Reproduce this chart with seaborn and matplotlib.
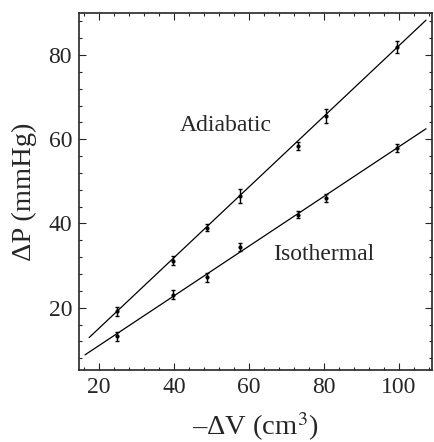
import matplotlib
matplotlib.use("Agg")
import matplotlib.pyplot as plt
from matplotlib.ticker import MultipleLocator
import seaborn as sns
import numpy as np

# Data
volume = [24.7, 39.8, 48.7, 57.6, 73.1, 80.5, 99.4]
adiabatic_p = [19.1, 31.2, 39.0, 46.5, 58.4, 65.5, 82.0]
adiabatic_err = [1.1, 1.0, 0.9, 1.7, 0.9, 1.7, 1.4]
isothermal_p = [13.2, 23.1, 27.2, 34.4, 42.1, 46.0, 57.9]
isothermal_err = [1.1, 1.1, 1.1, 1.0, 0.9, 1.0, 0.9]

adiabatic_fit_x = [17.4, 107.2]
adiabatic_fit_y = [12.9, 88.3]
isothermal_fit_x = [16.3, 107.2]
isothermal_fit_y = [8.8, 62.5]

x_ticks = [20, 40, 60, 80, 100]
y_ticks = [20, 40, 60, 80]

sns.set_style("ticks")
plt.rcParams["font.family"] = ["Liberation Serif", "DejaVu Serif"]
plt.rcParams["mathtext.fontset"] = "stix"

fig = plt.figure(figsize=(4.35, 4.42), dpi=100)
ax = fig.add_axes([79 / 435, 1 - 370 / 442, (432 - 79) / 435, (370 - 13) / 442])

sns.lineplot(x=adiabatic_fit_x, y=adiabatic_fit_y, ax=ax, color="black", lw=0.9)
sns.lineplot(x=isothermal_fit_x, y=isothermal_fit_y, ax=ax, color="black", lw=0.9)

for p, e in [(adiabatic_p, adiabatic_err), (isothermal_p, isothermal_err)]:
    ax.errorbar(volume, p, yerr=e, fmt="o", ms=2, color="black",
                ecolor="black", elinewidth=1.0, capsize=1.5, capthick=1.0)

ax.text(53.9, 63.3, "Adiabatic", fontsize=17, ha="center", va="center")
ax.text(80.0, 32.6, "Isothermal", fontsize=17, ha="center", va="center")

ax.set_xlim(14.7, 108.8)
ax.set_ylim(5.2, 90.0)
ax.set_xticks(x_ticks)
ax.set_yticks(y_ticks)
ax.xaxis.set_minor_locator(MultipleLocator(4))
ax.yaxis.set_minor_locator(MultipleLocator(4))
ax.tick_params(which="both", direction="in", top=True, right=True, width=0.8)
ax.tick_params(which="major", length=5, labelsize=17)
ax.tick_params(axis="y", which="major", pad=5)
ax.tick_params(axis="x", which="major", pad=5)
ax.tick_params(which="minor", length=2.5)
for s in ax.spines.values():
    s.set_linewidth(1.2)

ax.set_xlabel("\u2013ΔV (cm$^3$)", fontsize=20.5, labelpad=9)
ax.set_ylabel("ΔP (mmHg)", fontsize=20.5, labelpad=8)

fig.savefig("out.png", dpi=100)
